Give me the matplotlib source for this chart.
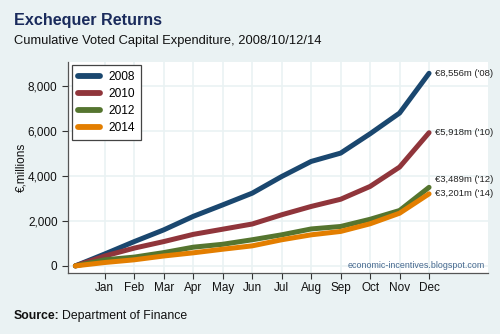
import matplotlib.pyplot as plt
import numpy as np

plt.rcParams['font.family'] = ['Liberation Sans', 'DejaVu Sans']

months = ['Jan', 'Feb', 'Mar', 'Apr', 'May', 'Jun', 'Jul', 'Aug', 'Sep', 'Oct', 'Nov', 'Dec']
years = ['2008', '2010', '2012', '2014']
end_tags = ["('08)", "('10)", "('12)", "('14)"]

# cumulative spend, EUR m, start of year then end of each month
spend_2008 = [0, 530, 1080, 1600, 2200, 2710, 3230, 3970, 4640, 5010, 5870, 6790, 8556]
spend_2010 = [0, 440, 790, 1080, 1400, 1630, 1860, 2270, 2640, 2960, 3530, 4390, 5918]
spend_2012 = [0, 270, 390, 590, 830, 960, 1160, 1380, 1640, 1750, 2070, 2460, 3489]
spend_2014 = [0, 150, 270, 440, 580, 740, 890, 1160, 1380, 1530, 1870, 2340, 3201]

colors = ['#1a476f', '#90353b', '#55752f', '#e37e00']
bg = '#eaf2f3'

fig = plt.figure(figsize=(5, 3.34), dpi=100, facecolor=bg)
ax = fig.add_axes([0.136, 0.183, 0.84, 0.632])
ax.set_facecolor('white')

x = np.arange(13)
series = [spend_2008, spend_2010, spend_2012, spend_2014]
for vals, c, yr in zip(series, colors, years):
    ax.plot(x, vals, color=c, lw=3.6, solid_capstyle='round', solid_joinstyle='round', label=yr)

# end-of-year value labels
label_dy = [0, 0, 6, 0]
for vals, c, tag, dy in zip(series, colors, end_tags, label_dy):
    ax.annotate('€{:,}m {}'.format(vals[-1], tag), xy=(12, vals[-1]), xytext=(4, dy),
                textcoords='offset points', va='center', ha='left', fontsize=6.8, color='#222222')

ax.set_xlim(-0.25, 14)
ax.set_ylim(-311, 9067)
ax.set_xticks(range(1, 13))
ax.set_xticklabels(months)
ax.set_yticks(range(0, 8001, 2000))
ax.set_yticklabels(['{:,}'.format(v) for v in range(0, 8001, 2000)])
ax.tick_params(axis='both', labelsize=8.5, colors='#333333', labelcolor='#111111', length=4, width=0.8)
ax.tick_params(axis='x', pad=2.5)
ax.grid(True, color=bg, lw=1.2)
ax.set_axisbelow(True)
for side in ['top', 'right']:
    ax.spines[side].set_visible(False)
for side in ['left', 'bottom']:
    ax.spines[side].set_color('#555555')
    ax.spines[side].set_linewidth(0.9)
ax.set_ylabel('€,millions', fontsize=8.5, color='#111111', labelpad=0)

leg = ax.legend(loc='upper left', fontsize=8.6, handlelength=1.85, handletextpad=0.75,
                labelspacing=0.42, borderpad=0.5, fancybox=False, framealpha=1,
                bbox_to_anchor=(0.0, 1.0), borderaxespad=0.3)
leg.get_frame().set_edgecolor('#444444')
leg.get_frame().set_linewidth(0.9)
for h in leg.get_lines():
    h.set_linewidth(4.2)

ax.text(0.992, 0.015, 'economic-incentives.blogspot.com', transform=ax.transAxes,
        ha='right', va='bottom', fontsize=6.4, color='#46688f')

fig.text(0.028, 0.925, 'Exchequer Returns', fontsize=11.6, fontweight='bold', color='#1a2b5c')
fig.text(0.028, 0.867, 'Cumulative Voted Capital Expenditure, 2008/10/12/14', fontsize=9.3, color='#111111')
fig.text(0.028, 0.045, 'Source:', fontsize=8.8, fontweight='bold', color='#111111')
fig.text(0.125, 0.045, 'Department of Finance', fontsize=8.8, color='#111111')

fig.savefig('out.png', dpi=100, facecolor=bg)
